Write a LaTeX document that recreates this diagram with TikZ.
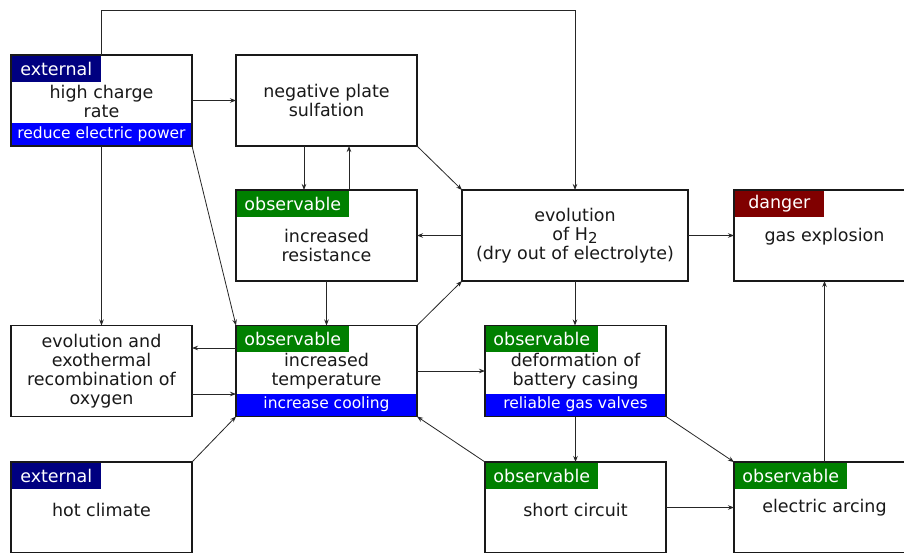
\documentclass[tikz,border=0pt]{standalone}
\usepackage{fontspec}
\setmainfont{DejaVu Sans}
\usetikzlibrary{arrows.meta}

\definecolor{extcol}{RGB}{0,0,128}
\definecolor{obscol}{RGB}{0,128,0}
\definecolor{dangcol}{RGB}{128,0,0}
\definecolor{fixcol}{RGB}{0,0,255}

\tikzset{
    box/.style={draw=black!90, line width=1.6pt, fill=white, minimum width=181pt,
        minimum height=91pt, inner sep=0pt, outer sep=0pt},
    txt/.style={align=center, text=black!90, font=\fontsize{17.5}{19}\selectfont},
    tag/.style={anchor=north west, text=white, inner sep=0pt, outer sep=0pt,
        minimum width=89pt, minimum height=26pt, font=\fontsize{17.5}{19}\selectfont},
    fix/.style={anchor=south, fill=fixcol, text=white, inner sep=0pt, outer sep=0pt,
        minimum width=179.4pt, minimum height=22pt, font=\fontsize{15.5}{16}\selectfont},
    link/.style={draw=black!85, line width=0.8pt, -{Stealth[length=6pt,width=4.5pt]}},
}

\begin{document}
\begin{tikzpicture}[x=1pt,y=-1pt]
    \fill[white] (0,0) rectangle (904,552);
    \useasboundingbox (0,0) rectangle (904,552);

    % boxes
    \node[box] (hcr)  at (101.5,100.5) {};
    \node[box] (sulf) at (326.5,100.5) {};
    \node[box] (res)  at (326.5,235.5) {};
    \node[box, minimum width=226pt] (evo) at (575,235.5) {};
    \node[box] (gas)  at (824.5,235.5) {};
    \node[box] (oxy)  at (101.5,371) {};
    \node[box] (temp) at (326.5,371) {};
    \node[box] (def)  at (575.5,371) {};
    \node[box] (hot)  at (101.5,507.5) {};
    \node[box] (sc)   at (575.5,507.5) {};
    \node[box] (arc)  at (824.5,507.5) {};

    % headers
    \node[tag, fill=extcol] (hcr-h) at ([shift={(0.8pt,-0.8pt)}]hcr.north west) {external};
    \node[tag, fill=extcol] (hot-h) at ([shift={(0.8pt,-0.8pt)}]hot.north west) {external};
    \node[tag, fill=dangcol] (gas-h) at ([shift={(0.8pt,-0.8pt)}]gas.north west) {danger};
    \foreach \b in {res,temp,def,sc,arc}
        \node[tag, fill=obscol, minimum width=112pt] (\b-h) at ([shift={(0.8pt,-0.8pt)}]\b.north west) {observable};

    % footers
    \node[fix] (hcr-f)  at ([yshift=0.8pt]hcr.south)  {reduce electric power};
    \node[fix] (temp-f) at ([yshift=0.8pt]temp.south) {increase cooling};
    \node[fix] (def-f)  at ([yshift=0.8pt]def.south)  {reliable gas valves};

    % texts
    \node[txt] (hcr-t)  at ([yshift=-1pt]hcr.center)  {high charge\\rate};
    \node[txt] (sulf-t) at (sulf.center) {negative plate\\sulfation};
    \node[txt] (res-t)  at ([yshift=-10pt]res.center) {increased\\resistance};
    \node[txt] (evo-t)  at (evo.center)  {evolution\\of H{\fontsize{15}{15}\selectfont\raisebox{-3pt}{2}}\\(dry out of electrolyte)};
    \node[txt] (gas-t)  at ([yshift=-1.5pt]gas.center) {gas explosion};
    \node[txt] (oxy-t)  at (oxy.center)  {evolution and\\exothermal\\recombination of\\oxygen};
    \node[txt] (temp-t) at (temp.center) {increased\\temperature};
    \node[txt] (def-t)  at (def.center)  {deformation of\\battery casing};
    \node[txt] (hot-t)  at ([yshift=-2.5pt]hot.center) {hot climate};
    \node[txt] (sc-t)   at ([yshift=-2.5pt]sc.center)  {short circuit};
    \node[txt] (arc-t)  at (arc.center)  {electric arcing};

    % links
    \coordinate (loop) at (0,10);
    \draw[link] (hcr.north) -- (hcr.north |- loop) -| (evo.north);
    \draw[link] (hcr.east) -- (sulf.west);
    \draw[link] ([xshift=-22.5pt]sulf.south) -- ([xshift=-22.5pt]res.north);
    \draw[link] ([xshift=22.5pt]res.north) -- ([xshift=22.5pt]sulf.south);
    \draw[link] (sulf.south east) -- (evo.north west);
    \draw[link] (evo.west) -- (res.east);
    \draw[link] (evo.east) -- (gas.west);
    \draw[link] (hcr.south) -- (oxy.north);
    \draw[link] (hcr.south east) -- (temp.north west);
    \draw[link] (res.south) -- (temp.north);
    \draw[link] (temp.north east) -- (evo.south west);
    \draw[link] ([yshift=23pt]temp.west) -- ([yshift=23pt]oxy.east);
    \draw[link] ([yshift=-23pt]oxy.east) -- ([yshift=-23pt]temp.west);
    \draw[link] (temp.east) -- (temp.east -| def.west);
    \draw[link] (evo.south) -- (evo.south |- def.north);
    \draw[link] (hot.north east) -- (temp.south west);
    \draw[link] (sc.north west) -- (temp.south east);
    \draw[link] (def.south) -- (sc.north);
    \draw[link] (def.south east) -- (arc.north west);
    \draw[link] (sc.east) -- (arc.west);
    \draw[link] (arc.north) -- (gas.south);
\end{tikzpicture}
\end{document}
